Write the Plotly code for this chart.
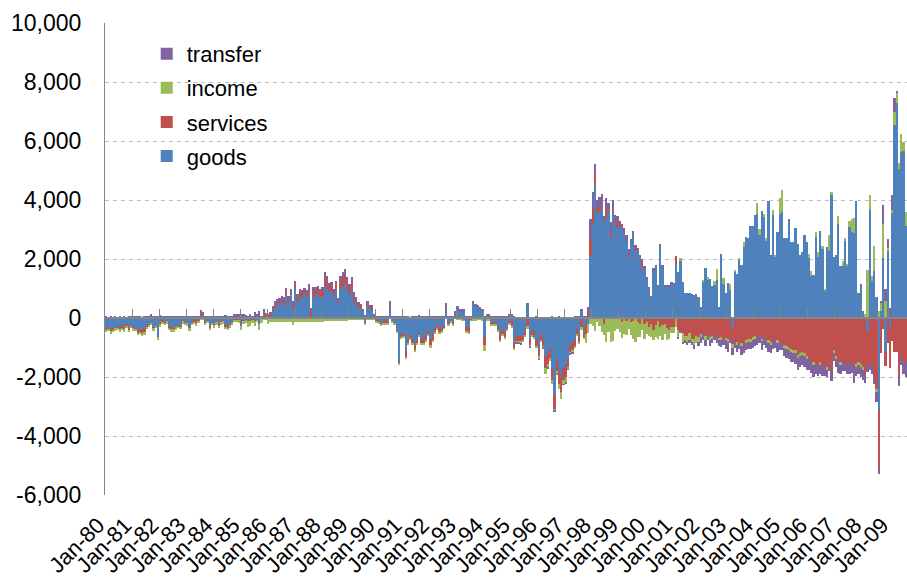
import plotly.graph_objects as go

# ---- tick labels / categories -------------------------------------------
years = list(range(1980, 2010))
month_names = ["Jan", "Feb", "Mar", "Apr", "May", "Jun",
               "Jul", "Aug", "Sep", "Oct", "Nov", "Dec"]
tick_labels = ["Jan-%02d" % (y % 100) for y in years]

# ---- monthly values (USD mn), Jan-80 .. Aug-09 ---------------------------
goods = [
    -370, -330, -380, -350, -340, -300, -330, -250, -320, -220, -330, -250,   # 1980
    -260, -370, -420, -370, -370, -350, -260, -230, -150, -310, -260, -630,   # 1981
    -180, -100, -150, -90, -280, -330, -330, -270, -230, -280, -100, -160,    # 1982
    -150, -330, -150, -90, -30, -100, 100, 60, -150, -80, -300, -150,         # 1983
    -230, -130, -230, -130, -80, -230, -330, -230, -130, -60, -60, -80,       # 1984
    -260, -90, -60, -70, -90, -40, -70, -90, -200, -30, 60, 40,               # 1985
    30, 80, 250, 330, 400, 530, 520, 420, 760, 530, 810, 300,                 # 1986
    1000, 530, 670, 760, 810, 700, 870, 0, 670, 800, 800, 700,                # 1987
    720, 1100, 1000, 870, 900, 720, 950, 500, 1000, 1100, 1180, 980,          # 1988
    800, 1000, 600, 480, 380, 320, 200, -150, 420, 300, 300, 30,              # 1989
    -100, -120, -150, -150, -80, -120, 400, -80, -180, -400, -1450, -550,     # 1990
    -540, -1100, -710, -540, -700, -900, -700, -500, -700, -650, -550, -400,  # 1991
    -700, -550, -350, -250, -350, -330, -230, 300, -150, -60, -150, 100,      # 1992
    300, 240, 220, 200, -300, -350, -40, 470, 380, 350, 270, 220,             # 1993
    -650, 60, 50, -150, -150, -150, -300, -550, -400, -450, -300, -100,       # 1994
    -100, -800, -600, -600, -600, -600, -400, 450, -700, -400, -450, -700,    # 1995
    -1000, -500, -700, -1300, -1200, -1000, -1700, -2610, -1400, -1800, -2000, -1700,  # 1996
    -1600, -1400, -900, -850, -700, -350, -550, 250, -400, -200, -200, 2110,  # 1997
    3200, 4510, 3570, 3620, 3900, 3300, 3350, 3660, 2730, 3620, 3220, 3070,   # 1998
    3100, 3040, 2850, 2610, 1990, 2530, 2860, 2270, 2210, 2040, 1670, 1650,   # 1999
    1300, 910, 680, 1600, 1700, 1050, 2410, 1720, 1070, 1080, 1060, 1150,     # 2000
    1150, 1830, 1550, 1960, 1210, 840, 840, 840, 810, 790, 640, 700,          # 2001
    360, 1230, 1700, 1320, 1320, 1100, 1110, 1300, 360, 2170, 1150, 850,      # 2002
    1190, 960, -320, 1570, 1490, 1970, 1800, 2410, 2730, 2700, 3110, 3110,    # 2003
    3490, 3530, 2820, 3640, 3440, 2620, 3980, 2140, 3490, 2060, 2900, 3530,   # 2004
    3580, 2710, 2710, 3350, 2590, 2590, 3050, 2510, 2140, 2250, 2810, 2560,   # 2005
    2020, 1430, 1460, 2730, 2080, 2940, 2350, 900, 2400, 2280, 4160, 2060,    # 2006
    2140, 3170, 1770, 1770, 2640, 1770, 3070, 2910, 2880, 3980, 850, 1150,    # 2007
    250, 40, -430, 3660, 1260, 1600, 700, -3110, 250, 2030, -1110, 2280,      # 2008
    -300, 3560, 6540, 7300, 5050, 5620, 5670, 3110,                          # 2009
]

services = [
    -20, -60, -50, -70, -10, -40, -40, -80, -60, -40, -60, -30,
    -90, -20, -80, -110, -170, -130, -30, -20, -20, -40, -30, -20,
    -30, -20, -20, -20, -50, -40, -30, -40, -30, -20, -30, -20,
    -20, -20, -20, -30, -150, -20, 70, 60, -20, -30, -30, -20,
    -20, -20, -60, -20, -30, -60, -20, -40, -30, -20, -30, -20,
    -20, -20, -20, -30, 40, -20, -20, 30, -20, -20, 100, 60,
    60, 60, 80, 90, 110, 60, 60, 170, 110, 110, 110, 170,
    130, 140, 200, 110, 110, 150, 170, 280, 200, 150, 170, 200,
    180, 250, 230, 180, 190, 160, 180, 110, 250, 250, 270, 230,
    200, 220, 180, 120, 90, 80, 60, -30, 80, 70, 60, 30,
    -20, -30, -70, -40, -100, -70, 50, -30, -20, -50, -90, -100,
    -90, -230, -170, -150, -150, -200, -160, -100, -150, -200, -200, -150,
    -200, -200, -150, -120, -150, -130, -110, 50, -80, -70, -80, 50,
    -30, -40, -60, -80, -150, -150, -40, -60, -60, -40, -40, -60,
    -280, -40, -40, -80, -80, -80, -130, -200, -150, -200, -100, -100,
    -200, -250, -200, -200, -200, -150, -200, -300, -200, -200, -200, -250,
    -300, -250, -250, -400, -350, -350, -400, -500, -400, -450, -500, -400,
    -400, -250, -250, -250, -250, -200, -250, -300, -250, -350, 250, 560,
    500, 370, 170, 150, 100, -200, 450, 70, 170, 80, 100, 170,
    100, -150, 100, -100, 150, -150, -100, 100, -150, -200, 250, -200,
    -150, -300, -200, -400, -250, -100, -300, -250, -200, -350, -400, -300,
    -300, 280, -400, -450, -500, -600, -600, -500, -700, -700, -600, -650,
    -550, -550, -600, -600, -650, -600, -550, -650, -700, -650, -700, -700,
    -700, -600, -550, -750, -800, -800, -850, -900, -750, -700, -700, -650,
    -600, -650, -600, -700, -650, -700, -750, -800, -750, -700, -750, -800,
    -850, -900, -950, -1000, -1050, -1100, -1100, -1250, -1200, -1150, -1200, -1300,
    -1400, -1450, -1500, -1550, -1600, -1500, -1600, -1650, -1650, -1500, -1800, -1100,
    -1300, -1400, -1500, -1450, -1500, -1600, -1550, -1500, -1700, -1550, -1500, -1550,
    -1650, -1900, -1200, -1500, -1700, -2000, -2400, -2010, -1200, -370, -530, -850,
    -1400, -770, -1160, -1160, -1980, -1280, -1500, -1500,
]

income = [
    -90, -60, -110, -60, -90, -80, -120, -80, -90, -80, -80, -70,
    -80, -60, -90, -60, -60, -90, -90, -60, -60, -100, -60, -80,
    -90, -80, -60, -80, -80, -100, -100, -110, -70, -80, -60, -60,
    -90, -100, -70, -80, -100, -60, -60, -60, -60, -60, -80, -60,
    -100, -80, -50, -90, -80, -80, -60, -60, -80, -60, -60, -60,
    -130, -110, -90, -190, -170, -110, -190, -60, -170, -130, -80, -80,
    -200, -150, -150, -130, -150, -150, -150, -150, -150, -150, -150, -230,
    -150, -150, -150, -150, -150, -150, -150, -150, -120, -150, -150, -150,
    -120, -100, -100, -100, -100, -100, -100, -100, -100, -100, -100, -100,
    -80, -80, -80, -60, -60, -60, -60, -40, -40, -40, -40, -60,
    -40, -50, -40, -60, -40, -30, -30, -40, -30, -40, -50, -40,
    -30, -40, -30, -30, -40, -50, -60, -30, -80, -60, -60, -40,
    -100, -70, -40, -30, -40, -30, -30, -20, -30, -20, -30, -30,
    -20, -20, -20, -20, -30, -20, -20, -20, -20, -20, -20, -20,
    -200, -30, -30, -30, -30, -30, -50, -70, -50, -60, -30, -30,
    -30, -50, -30, -40, -50, -40, -40, -60, -80, -40, -40, -80,
    -90, -70, -50, -200, -120, -100, -140, -30, -100, -150, -250, -140,
    -200, -80, -70, -70, -70, -50, -80, -100, -60, -300, -300, -200,
    -260, -430, -150, -260, -490, -370, -800, -490, -800, -770, -430, -370,
    -480, -540, -540, -480, -370, -430, -600, -800, -500, -450, -400, -500,
    -400, -300, -450, -350, -400, -600, -300, -500, -350, -400, -300, -200,
    -200, -300, -250, 60, -300, -150, -200, -250, -100, -200, -250, -150,
    -100, 60, -150, 60, -100, -100, 130, 360, -50, -80, 190, -50,
    -100, 190, -150, 60, -100, 60, -100, 150, -100, -100, -100, -100,
    -100, 370, 200, -80, 90, 80, -100, -100, 170, 80, -100, 540,
    770, -100, -100, -100, -100, -100, -100, -100, -100, -100, -100, -100,
    150, 170, -100, 170, 150, -100, 100, 80, -100, 530, 100, -100,
    -100, 300, -100, 170, 60, 60, 230, 450, 500, -100, -100, -100,
    -100, 100, 1640, 510, 180, 850, -100, 250, 280, 1160, 560, 80,
    50, 110, 450, 320, 200, 620, 280, 470,
]

transfer = [
    40, 30, 40, 30, 40, 30, 40, 30, 40, 30, 40, 50,
    40, 40, 40, 40, 30, 40, 60, 40, 120, 40, 50, 40,
    100, 60, 60, 80, 60, 60, 70, 60, 60, 70, 60, 70,
    60, 60, 60, 60, 60, 60, 100, 80, 60, 60, 60, 60,
    60, 80, 60, 60, 60, 90, 60, 60, 60, 150, 120, 120,
    130, 130, 100, 60, 80, 80, 190, 100, 250, 80, 150, 80,
    60, 60, 90, 150, 150, 100, 150, 110, 150, 100, 80, 110,
    130, 140, 130, 90, 110, 100, 110, 60, 170, 100, 100, 100,
    140, 200, 180, 140, 140, 100, 140, 60, 190, 200, 210, 170,
    150, 160, 110, 100, 80, 70, 40, 110, 60, 70, 80, 70,
    60, 50, 60, 80, 60, 50, 120, 80, 50, 40, 50, 40,
    50, 40, 60, 30, 80, 40, 50, 90, 40, 40, 70, 50,
    50, 50, 60, 50, 60, 50, 60, 150, 50, 80, 60, 80,
    100, 80, 80, 100, 80, 60, 60, 100, 100, 90, 90, 80,
    60, 80, 80, 60, 80, 70, 60, 60, 60, 60, 60, 150,
    150, 50, -50, -50, -50, 30, 30, 50, -30, 30, 30, 40,
    -30, 30, -30, 30, -30, 30, 40, -30, -30, 40, 30, -30,
    -30, -30, -30, -30, 40, 40, 40, 40, 40, 40, 110, 700,
    580, 340, 260, 320, 200, 170, 260, 170, 340, 310, 170, 230,
    100, 150, 100, 200, 200, 150, 100, 100, 150, 100, 80, 100,
    100, 150, 80, 100, 100, 80, 100, 80, 60, 50, 40, 60,
    40, 0, -50, -50, -80, -100, -100, -100, -100, -150, 170, -150,
    -200, -200, -200, -150, -200, -150, -200, -200, -200, -250, -200, -300,
    -350, -250, -250, -250, -250, -250, -300, -300, -250, -250, -250, -250,
    -250, -250, -250, -300, -250, -300, -300, -300, -300, -300, -300, -300,
    -250, -300, -300, -300, -350, -300, -350, -400, -350, -350, -350, -350,
    -350, -400, -400, -350, -350, -300, -350, -300, -250, -300, -350, -250,
    -250, -450, -300, -350, -300, -300, -350, -350, -500, -300, -300, -350,
    -350, -300, -200, -250, -200, -250, -340, -170, 60, 640, 430, 320,
    280, 500, 470, 80, -320, -320, -400, -500,
]

y_ticks = [-6000, -4000, -2000, 0, 2000, 4000, 6000, 8000, 10000]

# ---- build the figure ---------------------------------------------------
n = len(goods)
idx = list(range(n))
month_text = ["%s-%02d" % (month_names[i % 12], (1980 + i // 12) % 100) for i in idx]

series = [
    ("goods", goods, "#4F81BD", 4),
    ("services", services, "#C0504D", 3),
    ("income", income, "#9BBB59", 2),
    ("transfer", transfer, "#8064A2", 1),
]

fig = go.Figure()
for name, vals, color, rank in series:
    fig.add_trace(go.Bar(
        x=idx, y=vals, name=name, legendgroup=name, legendrank=rank,
        marker=dict(color=color, line=dict(width=0)),
        customdata=month_text,
        hovertemplate="%{customdata}<br>" + name + ": %{y:,}<extra></extra>",
    ))

# invisible helper trace so that the zero-line axis (x2) is drawn
fig.add_trace(go.Scatter(x=[0], y=[0], xaxis="x2", yaxis="y", mode="markers",
                         marker=dict(opacity=0), showlegend=False, hoverinfo="skip"))

year_starts = [12 * k for k in range(len(years))]
year_bounds = [12 * k - 0.5 for k in range(len(years) + 1)]
xr = [-0.5, n - 0.5]

fig.update_layout(
    width=907, height=581,
    margin=dict(l=105, r=0, t=23, b=86),
    paper_bgcolor="white", plot_bgcolor="white",
    font=dict(family="Liberation Sans, Arial, sans-serif", size=23, color="black"),
    barmode="relative", bargap=0,
    showlegend=True,
    legend=dict(x=0.052, y=0.979, xanchor="left", yanchor="top",
                traceorder="grouped", tracegroupgap=2.5,
                bgcolor="rgba(0,0,0,0)", font=dict(size=22), itemwidth=30),
    xaxis=dict(range=xr, tickmode="array", tickvals=year_starts, ticktext=tick_labels,
               tickangle=-45, showline=False, showgrid=False, zeroline=False,
               ticks="", automargin=False, tickfont=dict(size=22),
               ticklabelstandoff=12, ticklabelshift=-8),
    xaxis2=dict(range=xr, overlaying="x", anchor="free", position=0.375, side="bottom",
                showline=True, linecolor="#868686", linewidth=1.5,
                ticks="inside", ticklen=8, tickwidth=1.2, tickcolor="#868686",
                tickmode="array", tickvals=year_bounds, showticklabels=False,
                showgrid=False, zeroline=False, layer="above traces"),
    yaxis=dict(range=[-6000, 10000], tickmode="array", tickvals=y_ticks,
               ticktext=["{:,}".format(v) for v in y_ticks],
               showgrid=True, gridcolor="#BFBFBF", gridwidth=1, griddash="4px,4px",
               showline=True, linecolor="#868686", linewidth=1.2,
               zeroline=False, ticks="", ticklabelstandoff=18, automargin=False),
)

fig.write_html("out.html",
               config={"displayModeBar": False},
               post_script="document.body.style.margin='0px';"
                           "document.body.style.overflow='hidden';")
